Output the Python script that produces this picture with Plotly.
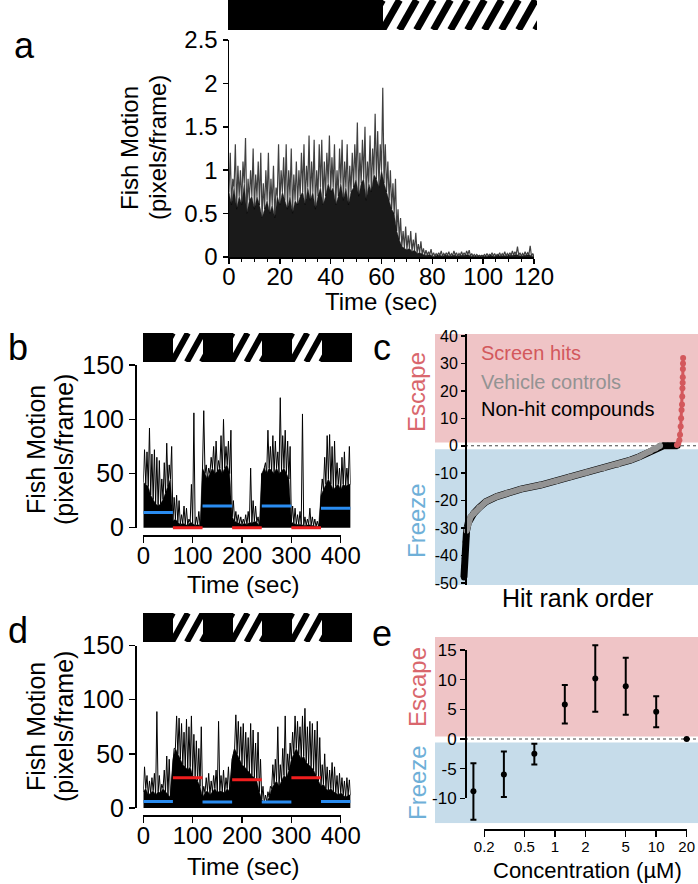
import math
import plotly.graph_objects as go

W, H = 698, 884
def fx(px): return px / W
def fy(py): return 1 - py / H

FONT = "Liberation Sans, Arial, sans-serif"

# ---------------- DATA ----------------
# Panel a: fish motion (pixels/frame), one value per second, 0-119 s
a_peak = [1.20,0.90,1.30,1.05,1.00,1.10,1.37,0.90,1.00,1.25,
          0.95,1.10,1.20,0.85,1.00,1.20,0.90,1.05,0.80,1.30,
          1.00,1.15,1.30,1.00,1.25,0.95,1.10,1.00,1.20,1.30,
          1.05,1.40,1.10,1.35,1.00,1.30,1.35,1.10,1.20,1.40,
          1.15,1.30,1.00,1.25,1.35,1.10,1.30,1.05,1.20,1.30,
          1.55,1.20,1.35,1.50,1.10,1.40,1.25,1.65,1.45,1.30,
          1.95,1.30,1.10,1.00,0.85,0.90,0.55,0.45,0.30,0.35,
          0.25,0.30,0.20,0.28,0.15,0.18,0.10,0.08,0.06,0.09,
          0.05,0.04,0.05,0.07,0.04,0.05,0.06,0.04,0.07,0.05,
          0.04,0.06,0.05,0.07,0.08,0.04,0.03,0.03,0.02,0.02,
          0.03,0.04,0.03,0.05,0.04,0.03,0.05,0.04,0.06,0.04,
          0.05,0.07,0.06,0.12,0.05,0.04,0.06,0.05,0.13,0.04]
a_core = [0.75,0.60,0.80,0.55,0.70,0.60,0.85,0.50,0.65,0.70,
          0.55,0.70,0.60,0.45,0.55,0.65,0.50,0.60,0.45,0.70,
          0.60,0.75,0.65,0.55,0.70,0.50,0.65,0.60,0.70,0.75,
          0.60,0.80,0.65,0.75,0.55,0.70,0.80,0.60,0.70,0.85,
          0.75,0.80,0.60,0.70,0.85,0.65,0.80,0.60,0.75,0.80,
          0.90,0.70,0.85,0.90,0.65,0.85,0.75,0.95,0.90,0.80,
          1.00,0.85,0.75,0.65,0.55,0.50,0.30,0.20,0.12,0.10,
          0.08,0.10,0.06,0.08,0.04,0.05,0.03,0.02,0.02,0.03,
          0.01,0.01,0.02,0.02,0.01,0.02,0.02,0.01,0.02,0.02,
          0.01,0.02,0.02,0.02,0.03,0.01,0.01,0.01,0.01,0.01,
          0.01,0.01,0.01,0.02,0.01,0.01,0.02,0.01,0.02,0.01,
          0.02,0.02,0.02,0.03,0.02,0.01,0.02,0.02,0.03,0.01]
a_bin_sec = 1
a_stim_start = [0, 60]
a_stim_len = [60, 60]
a_stim_kind = ["dark", "striped"]

# Panels b and d: 5-second bins, 0-415 s
bd_bin_sec = 5
b_peak = [72,70,92,68,72,65,62,45,60,78,58,75,
          28,30,25,12,20,18,8,40,106,10,15,8,
          108,58,55,65,75,80,62,85,100,75,80,90,
          25,15,12,10,8,12,15,55,25,20,10,8,
          30,60,90,75,85,80,70,120,85,90,80,75,
          20,18,12,15,105,10,8,18,10,8,6,5,
          45,65,85,86,75,80,60,55,65,70,55,75]
b_core = [42,40,38,30,26,22,20,22,26,32,38,45,
          6,8,5,3,4,3,2,5,4,2,3,2,
          55,50,45,50,55,50,52,55,50,55,58,50,
          10,6,5,4,3,4,3,5,4,6,5,2,
          50,55,50,55,52,50,55,50,52,55,50,45,
          5,4,3,3,3,2,2,3,2,2,1,1,
          30,35,40,45,40,35,38,40,35,40,38,40]
d_peak = [38,30,25,28,32,89,30,22,35,48,45,25,
          55,85,83,78,70,82,75,85,68,62,55,75,
          20,28,32,25,30,35,80,30,35,28,38,35,
          50,86,80,75,78,70,65,78,72,60,70,45,
          20,12,15,20,40,45,75,40,55,85,50,60,
          70,85,80,75,85,92,75,80,78,72,80,65,
          40,50,38,35,42,38,30,32,28,25,28,26]
d_core = [15,18,12,14,16,12,15,14,18,15,12,10,
          45,55,50,45,40,38,35,38,30,28,25,20,
          10,14,16,12,15,18,14,16,15,14,18,15,
          45,55,50,45,40,38,35,32,30,28,25,15,
          8,5,6,10,18,22,25,20,25,30,28,35,
          45,50,55,50,45,48,42,40,38,35,30,25,
          20,22,18,16,18,15,14,12,14,12,10,12]
bd_stim_start = [0, 60, 120, 180, 240, 300, 360]
bd_stim_len = [60, 60, 60, 60, 60, 60, 60]
bd_stim_kind = ["dark", "striped", "dark", "striped", "dark", "striped", "dark"]
b_period_mean = [14, 0, 20, 0, 20, 0, 18]
d_period_mean = [6, 28, 5.5, 26, 5.5, 28, 6]

# Panel c: ranked screen scores
c_nonhit_rank = [0,2,4,6,8,10,12,20,30,45,70,100,150,195,260,350,420,485,560,636,
                 700,760,800,849,875,895,910,930,950,975]
c_nonhit_val = [-48,-44,-41,-38,-35,-33,-31,-28,-26,-24.6,-22.5,-20.4,-18.5,-17.3,-15.8,
                -14.3,-12.8,-11.3,-9.7,-8.2,-6.8,-5.2,-4.0,-2.1,-1.0,0,0,0,0,0]
c_vehicle_rank = [12,20,30,45,70,100,150,195,260,350,420,485,560,636,700,760,800,849,875,895]
c_vehicle_val = [-31,-28,-26,-24.6,-22.5,-20.4,-18.5,-17.3,-15.8,-14.3,-12.8,-11.3,-9.7,
                 -8.2,-6.8,-5.2,-4.0,-2.1,-1.0,0]
c_hit_rank = [972,978,983,986,989,991,993,995,996,997,998,998.5,999,999.5,1000]
c_hit_val = [0.3,0.8,2,4,7,10,13,15,18,21,23,25,28,30,32]

# Panel e: dose response
e_conc = [0.15625, 0.3125, 0.625, 1.25, 2.5, 5, 10, 20]
e_mean = [-8.8, -6.0, -2.5, 5.8, 10.2, 8.9, 4.6, 0.0]
e_upper = [-4.1, -2.1, -0.8, 9.1, 15.8, 13.7, 7.2, 0.0]
e_lower = [-13.6, -9.8, -4.3, 2.6, 4.6, 4.1, 2.0, 0.0]

# ---------------- STYLE ----------------
PINK = "#efc4c6"
BLUE = "#c6dcea"
ESC_COL = "#d9676d"
FRZ_COL = "#6fb0d8"
HIT_COL = "#d3585c"
VEH_COL = "#939393"
MEAN_BLUE = "#2a8cf0"
MEAN_RED = "#f01e1e"

fig = go.Figure()

def trace_panel(xa, ya, core, peak, dt, core_col, spike_col, spike_w):
    tc = [i * dt for i in range(len(core))] + [len(core) * dt]
    yc = list(core) + [core[-1]]
    fig.add_trace(go.Scatter(x=tc, y=yc, mode="lines", fill="tozeroy",
                             fillcolor=core_col, line=dict(width=0.5, color=core_col),
                             xaxis=xa, yaxis=ya, hoverinfo="skip"))
    xs, ys = [], []
    for i, (c, p) in enumerate(zip(core, peak)):
        xs += [i * dt, i * dt + dt / 2]
        ys += [c, p]
    xs.append(len(core) * dt)
    ys.append(core[-1])
    fig.add_trace(go.Scatter(x=xs, y=ys, mode="lines",
                             line=dict(width=spike_w, color=spike_col),
                             xaxis=xa, yaxis=ya, hoverinfo="skip"))

def stim_bar(xa, ya, starts, lens, kinds, bar_px_w, total, period_px, lean_px, stripe_w):
    d = [i for i, k in enumerate(kinds) if k == "dark"]
    s = [i for i, k in enumerate(kinds) if k == "striped"]
    fig.add_trace(go.Bar(x=[lens[i] for i in s], base=[starts[i] for i in s], y=[0] * len(s),
                         orientation="h", width=1,
                         marker=dict(color="white", line=dict(width=0)),
                         xaxis=xa, yaxis=ya, hoverinfo="skip"))
    fig.add_trace(go.Bar(x=[lens[i] for i in d], base=[starts[i] for i in d], y=[0] * len(d),
                         orientation="h", width=1,
                         marker=dict(color="black", line=dict(width=0)),
                         xaxis=xa, yaxis=ya, hoverinfo="skip"))
    # diagonal hatching (decoration) inside striped periods
    u = total / bar_px_w  # data units per pixel
    xs, ys = [], []
    for i in s:
        x = starts[i] - lean_px * u
        while x < starts[i] + lens[i]:
            xs += [x, x + lean_px * u, None]
            ys += [-0.5, 0.5, None]
            x += period_px * u
    fig.add_trace(go.Scatter(x=xs, y=ys, mode="lines",
                             line=dict(width=stripe_w, color="black"),
                             xaxis=xa, yaxis=ya, hoverinfo="skip"))

def mean_lines(xa, ya, starts, lens, kinds, means):
    for kind, col in (("dark", MEAN_BLUE), ("striped", MEAN_RED)):
        xs, ys = [], []
        for st, ln, k, m in zip(starts, lens, kinds, means):
            if k == kind:
                xs += [st, st + ln, None]
                ys += [m, m, None]
        fig.add_trace(go.Scatter(x=xs, y=ys, mode="lines", line=dict(width=3, color=col),
                                 xaxis=xa, yaxis=ya, hoverinfo="skip"))

def dummy(xa, ya):
    fig.add_trace(go.Scatter(x=[None], y=[None], mode="markers", xaxis=xa, yaxis=ya,
                             hoverinfo="skip"))

# Panel a
trace_panel("x", "y", a_core, a_peak, a_bin_sec, "#1a1a1a", "rgba(0,0,0,0.75)", 1.2)
stim_bar("x2", "y2", a_stim_start, a_stim_len, a_stim_kind, 309, 120, 17, 17, 7)

# Panel b
trace_panel("x3", "y3", b_core, b_peak, bd_bin_sec, "#000000", "#000000", 1)
mean_lines("x3", "y3", bd_stim_start, bd_stim_len, bd_stim_kind, b_period_mean)
dummy("x4", "y4")
stim_bar("x5", "y5", bd_stim_start, bd_stim_len, bd_stim_kind, 209, 420, 15, 16, 6)

# Panel c
fig.add_trace(go.Scatter(x=c_nonhit_rank, y=c_nonhit_val, mode="lines+markers",
                         line=dict(width=7, color="black"), marker=dict(size=6, color="black"),
                         xaxis="x6", yaxis="y6", hoverinfo="skip"))
fig.add_trace(go.Scatter(x=c_vehicle_rank, y=c_vehicle_val, mode="lines+markers",
                         line=dict(width=6, color=VEH_COL), marker=dict(size=6, color=VEH_COL),
                         xaxis="x6", yaxis="y6", hoverinfo="skip"))
fig.add_trace(go.Scatter(x=c_hit_rank, y=c_hit_val, mode="lines+markers",
                         line=dict(width=3, color=HIT_COL), marker=dict(size=6, color=HIT_COL),
                         xaxis="x6", yaxis="y6", hoverinfo="skip"))

# Panel d
trace_panel("x7", "y7", d_core, d_peak, bd_bin_sec, "#000000", "#000000", 1)
mean_lines("x7", "y7", bd_stim_start, bd_stim_len, bd_stim_kind, d_period_mean)
dummy("x8", "y8")
stim_bar("x9", "y9", bd_stim_start, bd_stim_len, bd_stim_kind, 209, 420, 15, 16, 6)

# Panel e
e_plus = [u - m for u, m in zip(e_upper, e_mean)]
e_minus = [m - l for m, l in zip(e_mean, e_lower)]
fig.add_trace(go.Scatter(x=e_conc, y=e_mean, mode="markers",
                         marker=dict(size=6, color="black"),
                         error_y=dict(type="data", array=e_plus, arrayminus=e_minus,
                                      color="black", thickness=2, width=3),
                         xaxis="x10", yaxis="y10", hoverinfo="skip"))
dummy("x11", "y11")

# ---------------- AXES ----------------
def vis(size, **kw):
    d = dict(showline=True, linecolor="black", linewidth=1.5, ticks="outside", ticklen=6,
             tickwidth=1.5, tickcolor="black", showgrid=False, zeroline=False,
             automargin=False,
             tickfont=dict(family=FONT, size=size, color="black"), fixedrange=True)
    d.update(kw)
    return d

def hid(**kw):
    d = dict(visible=False, showgrid=False, zeroline=False, fixedrange=True, automargin=False)
    d.update(kw)
    return d

lay = {}
# a
lay["xaxis"] = vis(24, domain=[fx(229), fx(534)], range=[0, 120], anchor="y",
                   tickvals=[0, 20, 40, 60, 80, 100, 120], ticklen=5, ticklabelstandoff=-7,
                   minor=dict(dtick=5, ticklen=3, tickwidth=1, ticks="outside", tickcolor="black"))
lay["yaxis"] = vis(24, domain=[fy(257), fy(40)], range=[0, 2.5], anchor="x", ticklen=5,
                   tickvals=[0, 0.5, 1, 1.5, 2, 2.5], ticktext=["0", "0.5", "1", "1.5", "2", "2.5"])
lay["xaxis2"] = hid(domain=[fx(228), fx(537)], range=[0, 120], anchor="y2")
lay["yaxis2"] = hid(domain=[fy(30), fy(0)], range=[-0.5, 0.5], anchor="x2")
# b
b0, bpx = 527.7, 1.0833
lay["xaxis3"] = hid(domain=[fx(143.3), fx(350.6)], range=[0, 420], anchor="y3")
lay["yaxis3"] = hid(domain=[fy(b0 + 10 * bpx), fy(b0 - 160 * bpx)], range=[-10, 160], anchor="x3")
lay["xaxis4"] = vis(24, domain=[fx(143.3), fx(340.7)], range=[0, 400], anchor="free",
                    position=fy(535), tickvals=[0, 100, 200, 300, 400], ticklabelstandoff=-7)
lay["yaxis4"] = vis(25, domain=[fy(b0), fy(b0 - 150 * bpx)], range=[0, 150], anchor="free",
                    position=fx(135), tickvals=[0, 50, 100, 150])
lay["xaxis5"] = hid(domain=[fx(143), fx(352)], range=[0, 420], anchor="y5")
lay["yaxis5"] = hid(domain=[fy(362), fy(333)], range=[-0.5, 0.5], anchor="x5")
# c
lay["xaxis6"] = hid(domain=[fx(435), fx(698)], range=[-132, 1068], anchor="y6")
lay["yaxis6"] = vis(16, domain=[fy(584.9), fy(334.1)], range=[-50.7, 40.7], anchor="free",
                    position=fx(465), ticklen=4, tickvals=list(range(-50, 41, 10)),
                    ticktext=[str(v) for v in range(-50, 41, 10)])
# d
d0 = 808
lay["xaxis7"] = hid(domain=[fx(143.3), fx(350.6)], range=[0, 420], anchor="y7")
lay["yaxis7"] = hid(domain=[fy(d0 + 10 * bpx), fy(d0 - 160 * bpx)], range=[-10, 160], anchor="x7")
lay["xaxis8"] = vis(24, domain=[fx(143.3), fx(340.7)], range=[0, 400], anchor="free",
                    position=fy(815), tickvals=[0, 100, 200, 300, 400], ticklabelstandoff=-7)
lay["yaxis8"] = vis(25, domain=[fy(d0), fy(d0 - 150 * bpx)], range=[0, 150], anchor="free",
                    position=fx(135), tickvals=[0, 50, 100, 150])
lay["xaxis9"] = hid(domain=[fx(143), fx(352)], range=[0, 420], anchor="y9")
lay["yaxis9"] = hid(domain=[fy(642), fy(613)], range=[-0.5, 0.5], anchor="x9")
# e
e0, epx = 739, 5.93
lx0 = (435 - 555) / 101.2
lx1 = (698 - 555) / 101.2
lay["xaxis10"] = hid(type="log", domain=[fx(435), fx(698)], range=[lx0, lx1], anchor="y10")
lay["yaxis10"] = hid(domain=[fy(e0 + 14.2 * epx), fy(e0 - 17.2 * epx)], range=[-14.2, 17.2],
                     anchor="x10")
lay["xaxis11"] = vis(15, type="log", domain=[fx(555 + 101.2 * math.log10(0.2)),
                                             fx(555 + 101.2 * math.log10(20))],
                     range=[math.log10(0.2), math.log10(20)], anchor="free", position=fy(829),
                     tickvals=[0.2, 0.5, 1, 2, 5, 10, 20], ticklabelstandoff=-3,
                     ticktext=["0.2", "0.5", "1", "2", "5", "10", "20"])
lay["yaxis11"] = vis(17, domain=[fy(e0 + 10 * epx), fy(e0 - 15 * epx)], range=[-10, 15],
                     anchor="free", position=fx(465), ticklen=5,
                     tickvals=[-10, -5, 0, 5, 10, 15],
                     ticktext=["-10", "-5", "0", "5", "10", "15"])

# ---------------- SHAPES ----------------
dot_x0 = (465 - 435) / (698 - 435)
shapes = [
    dict(type="rect", xref="x6 domain", yref="y6", x0=0, x1=1, y0=1.2, y1=40.7,
         fillcolor=PINK, line=dict(width=0), layer="below"),
    dict(type="rect", xref="x6 domain", yref="y6", x0=0, x1=1, y0=-50.7, y1=-1.3,
         fillcolor=BLUE, line=dict(width=0), layer="below"),
    dict(type="line", xref="x6 domain", yref="y6", x0=dot_x0, x1=1, y0=0, y1=0,
         line=dict(color="#444", width=1, dash="dot"), layer="below"),
    dict(type="rect", xref="x10 domain", yref="y10", x0=0, x1=1, y0=0.4, y1=17.2,
         fillcolor=PINK, line=dict(width=0), layer="below"),
    dict(type="rect", xref="x10 domain", yref="y10", x0=0, x1=1, y0=-14.2, y1=-0.6,
         fillcolor=BLUE, line=dict(width=0), layer="below"),
    dict(type="line", xref="x10 domain", yref="y10", x0=dot_x0, x1=1, y0=0, y1=0,
         line=dict(color="#444", width=1, dash="dot"), layer="below"),
]

# ---------------- TEXT ----------------
def ann(text, px, py, size, color="black", angle=0, xanchor="center"):
    return dict(text=text, x=fx(px), y=fy(py), xref="paper", yref="paper", showarrow=False,
                font=dict(family=FONT, size=size, color=color), textangle=angle,
                xanchor=xanchor, yanchor="middle", borderpad=0)

anns = [
    ann("a", 24, 45, 36), ann("b", 18, 348, 36), ann("c", 382, 348, 36),
    ann("d", 18, 630, 36), ann("e", 382, 633, 36),
    ann("Fish Motion", 130, 148, 24, angle=-90), ann("(pixels/frame)", 158, 148, 24, angle=-90),
    ann("Time (sec)", 381, 301, 24),
    ann("Fish Motion", 36, 450, 25, angle=-90), ann("(pixels/frame)", 64, 450, 25, angle=-90),
    ann("Time (sec)", 243, 584, 24),
    ann("Fish Motion", 36, 727, 25, angle=-90), ann("(pixels/frame)", 64, 727, 25, angle=-90),
    ann("Time (sec)", 243, 866, 24),
    ann("Escape", 416, 392, 24, ESC_COL, -90), ann("Freeze", 416, 521, 24, FRZ_COL, -90),
    ann("Screen hits", 480, 353, 20, HIT_COL, xanchor="left"),
    ann("Vehicle controls", 480, 382, 20, VEH_COL, xanchor="left"),
    ann("Non-hit compounds", 480, 409, 20, "black", xanchor="left"),
    ann("Hit rank order", 577, 598, 25),
    ann("Escape", 417, 687, 24, ESC_COL, -90), ann("Freeze", 417, 783, 24, FRZ_COL, -90),
    ann("Concentration (µM)", 587, 870, 22),
]

fig.update_layout(width=W, height=H,
                  margin=dict(l=0, r=0, t=0, b=0, pad=0, autoexpand=False),
                  paper_bgcolor="white", plot_bgcolor="rgba(0,0,0,0)",
                  showlegend=False, barmode="overlay", bargap=0,
                  shapes=shapes, annotations=anns, font=dict(family=FONT), **lay)

fig.write_html("out.html", config={"displayModeBar": False, "staticPlot": True},
               post_script="document.body.style.margin='0px';"
                           "document.body.style.overflow='hidden';")
